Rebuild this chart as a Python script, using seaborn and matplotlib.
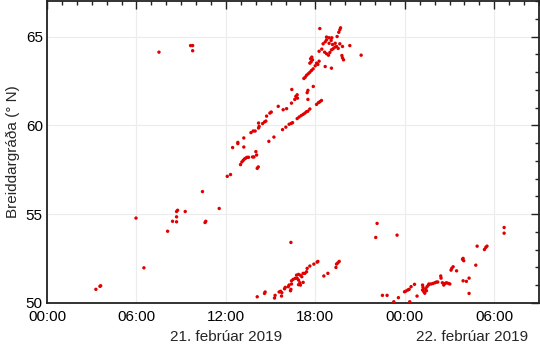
import matplotlib
matplotlib.use("Agg")
import matplotlib.pyplot as plt
import seaborn as sns
import pandas as pd
from matplotlib.ticker import MultipleLocator, FixedLocator

# hours since 21 Feb 2019 00:00
hours = [
    3.28, 3.55, 3.6, 5.97, 6.5, 8.09, 8.42, 8.69, 8.69, 8.69, 8.76, 9.27, 10.43, 10.6, 10.65, 11.55, 12.09, 12.31,
    7.51, 9.63, 9.77, 9.77,
    12.45, 12.8, 12.8, 13.2, 13.2, 12.98, 13.07, 13.16, 13.25, 13.34, 13.43, 13.52, 13.79, 13.88, 14.01, 14.06,
    14.1, 14.17, 13.68, 13.83, 13.96, 14.19, 14.19, 14.23, 14.46, 14.59, 14.68, 14.73, 14.95, 15.04, 15.51,
    15.84, 16.07, 16.4, 16.42, 16.62, 16.69, 16.78, 16.8, 17.45, 17.5, 17.5, 17.86,
    14.88, 15.22, 15.8, 16.02, 16.24, 16.38, 16.47, 16.78, 16.91, 17.05, 17.18, 17.3, 17.41, 17.5, 17.63,
    18.08, 18.21, 18.3, 18.41,
    18.3, 19.69, 19.64, 19.57, 19.46, 18.75, 18.92, 19.1, 18.52, 18.66, 18.75, 18.92, 19.06, 19.15, 19.33,
    19.64, 19.82, 20.31, 21.07, 18.25, 18.43, 18.62, 18.75, 18.88, 18.97, 19.08, 19.19, 19.31, 19.42, 19.53,
    19.78, 19.82, 19.89, 17.76, 17.68, 17.81, 17.63, 17.72, 18.08, 18.25, 18.17, 17.99, 17.85, 17.74, 17.63,
    17.52, 17.41, 17.32, 17.23, 18.66, 19.08,
    16.36, 14.1, 14.59, 14.63, 15.26, 15.3, 15.57, 15.67, 15.75, 15.73, 15.93, 15.98, 16.18, 16.24, 16.4,
    16.33, 16.36, 16.4, 16.51, 16.65, 16.74, 16.87, 17.0, 17.09, 17.18, 16.78, 16.87, 16.96, 16.87, 17.0,
    17.18, 17.3, 17.41, 17.45, 17.63, 17.9, 18.12, 18.17, 18.57, 18.84, 19.38, 19.42, 19.51, 19.6,
    22.14, 22.05, 23.48, 22.5, 22.81, 23.26, 23.57,
    23.98, 24.07, 24.2, 24.29, 24.33, 24.42, 24.65, 24.82, 25.19, 25.22, 25.19, 25.27, 25.34, 25.4, 25.45,
    25.49, 25.58, 25.62, 25.76, 25.89, 26.02, 26.12, 26.21, 26.41, 26.43, 26.52, 26.61, 26.7, 26.8, 26.93,
    27.02, 27.1, 27.15, 27.24, 27.47, 27.87, 27.95, 27.91, 27.91, 28.13, 28.31, 28.31, 28.76, 28.85,
    29.34, 29.43, 29.51, 30.66, 30.66,
]
latitude = [
    50.77, 50.94, 50.97, 54.78, 51.98, 54.04, 54.6, 54.57, 54.85, 55.15, 55.22, 55.15, 56.27, 54.53, 54.6, 55.32, 57.13, 57.23,
    64.12, 64.49, 64.49, 64.2,
    58.75, 58.97, 59.04, 58.78, 59.29, 57.79, 57.94, 58.03, 58.11, 58.16, 58.2, 58.2, 58.22, 58.22, 58.52, 58.33,
    57.58, 57.66, 59.59, 59.68, 59.68, 59.85, 60.13, 59.94, 60.1, 60.19, 60.24, 60.52, 60.69, 60.75, 61.07,
    60.88, 60.94, 61.25, 62.02, 61.46, 61.63, 61.72, 61.53, 61.84, 61.97, 61.46, 62.19,
    59.1, 59.34, 59.76, 59.9, 60.06, 60.11, 60.15, 60.38, 60.47, 60.55, 60.62, 60.69, 60.77, 60.8, 60.92,
    61.18, 61.28, 61.33, 61.4,
    65.45, 65.49, 65.38, 65.24, 65.0, 64.97, 64.93, 64.93, 64.59, 64.7, 64.81, 64.62, 64.78, 64.55, 64.62,
    64.59, 64.44, 64.49, 63.95, 64.17, 64.29, 64.12, 64.03, 63.95, 64.1, 64.25, 64.31, 64.4, 64.44, 64.33,
    63.93, 63.8, 63.69, 63.84, 63.75, 63.69, 63.5, 63.58, 63.5, 63.61, 63.43, 63.35, 63.18, 63.09, 62.99,
    62.9, 62.82, 62.71, 62.64, 63.31, 63.22,
    53.41, 50.35, 50.54, 50.62, 50.28, 50.43, 50.62, 50.66, 50.58, 50.39, 50.8, 50.88, 50.92, 51.01, 51.07,
    50.69, 50.77, 51.25, 51.33, 51.39, 51.57, 51.61, 51.56, 51.48, 51.67, 51.39, 51.29, 51.14, 51.03, 51.01,
    51.16, 51.67, 51.76, 51.95, 52.08, 52.19, 52.3, 52.34, 51.52, 51.67, 52.0, 52.19, 52.26, 52.34,
    54.48, 53.69, 53.82, 50.43, 50.43, 50.07, 50.3,
    50.63, 50.67, 50.73, 50.77, 50.07, 50.92, 51.05, 50.39, 51.01, 50.88, 50.73, 50.64, 50.55, 50.8, 50.69,
    50.92, 51.01, 51.07, 51.07, 51.1, 51.14, 51.18, 51.18, 51.52, 51.4, 51.14, 51.01, 51.1, 51.14, 51.1,
    51.07, 51.85, 51.95, 52.04, 51.81, 52.46, 52.38, 52.51, 51.25, 51.22, 51.4, 50.54, 52.13, 53.2,
    53.01, 53.13, 53.2, 54.25, 53.93,
]

x_ticks = [0, 6, 12, 18, 24, 30]
x_tick_labels = ["00:00", "06:00", "12:00", "18:00", "00:00", "06:00"]
y_ticks = [50, 55, 60, 65]
day_labels = ["21. febrúar 2019", "22. febrúar 2019"]
day_label_pos = [12, 28.5]
y_label = "Breiddargráða (° N)"

df = pd.DataFrame({"hours": hours, "lat": latitude})

sns.set_style("white")
plt.rcParams["font.family"] = ["Liberation Sans", "DejaVu Sans"]

fig = plt.figure(figsize=(5.4, 3.46), dpi=100)
ax = fig.add_axes([47 / 540, 43 / 346, 492 / 540, 302 / 346])

sns.scatterplot(data=df, x="hours", y="lat", ax=ax, color="#e00000", s=6,
                edgecolor="none", linewidth=0, zorder=3)

ax.set_xlim(0, 33)
ax.set_ylim(50, 67)
ax.xaxis.set_major_locator(FixedLocator(x_ticks))
ax.set_xticklabels(x_tick_labels)
ax.xaxis.set_minor_locator(MultipleLocator(1))
ax.yaxis.set_major_locator(FixedLocator(y_ticks))
ax.yaxis.set_minor_locator(MultipleLocator(1))

ax.grid(True, which="major", color="#ececec", linewidth=0.8, zorder=0)
ax.tick_params(which="both", direction="in", top=True, right=True, colors="#222222",
               labelcolor="black", labelsize=11, width=1.0)
ax.tick_params(which="major", length=6)
ax.tick_params(axis="x", which="major", pad=5)
ax.tick_params(axis="y", which="major", pad=3)
ax.tick_params(which="minor", length=3)
for sp in ax.spines.values():
    sp.set_color("#222222")
    sp.set_linewidth(1.3)

ax.set_xlabel("")
ax.set_ylabel(y_label, fontsize=11, labelpad=4)

trans = ax.get_xaxis_transform()
for pos, lab in zip(day_label_pos, day_labels):
    ax.text(pos, -0.09, lab, transform=trans, ha="center", va="top", fontsize=11)

fig.savefig("out.png", dpi=100)
